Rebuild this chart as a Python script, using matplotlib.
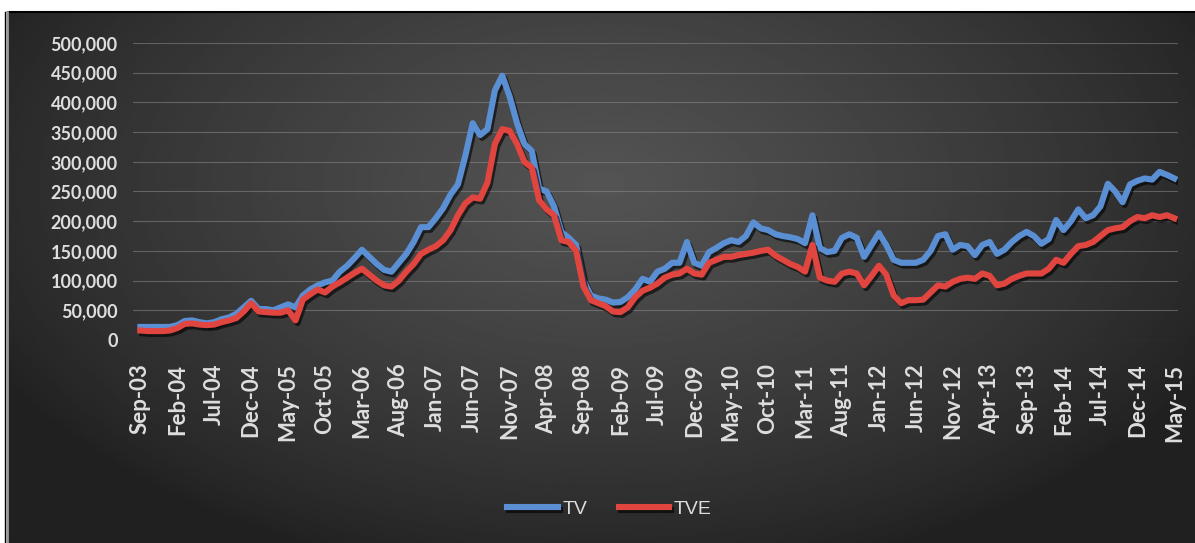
import numpy as np
import pandas as pd
import matplotlib
matplotlib.use('Agg')
import matplotlib.pyplot as plt
import matplotlib.patheffects as pe
from matplotlib.ticker import FuncFormatter

# Mois de Sep-03 a May-15
mois = pd.date_range('2003-09-01', '2015-05-01', freq='MS')
etiquettes = [d.strftime('%b-%y') for d in mois]

# Valeurs (milliers)
tv = [22, 22, 22, 22, 22, 25, 32, 33, 30, 28,
      30, 35, 38, 44, 55, 66, 52, 52, 50, 55,
      60, 55, 75, 85, 92, 97, 100, 115, 125, 138,
      152, 140, 128, 118, 115, 130, 145, 165, 190, 190,
      205, 222, 245, 262, 310, 365, 345, 355, 420, 445,
      410, 365, 330, 318, 255, 250, 225, 182, 172, 160,
      100, 75, 70, 68, 63, 64, 72, 85, 103, 98,
      115, 120, 130, 130, 165, 130, 125, 148, 155, 163,
      168, 165, 175, 198, 188, 185, 178, 175, 173, 170,
      163, 210, 155, 148, 150, 172, 178, 172, 140, 160,
      180, 160, 135, 130, 130, 130, 135, 150, 175, 178,
      152, 160, 158, 143, 160, 165, 145, 152, 165, 175,
      182, 175, 162, 170, 202, 185, 200, 220, 205, 210,
      225, 263, 250, 232, 262, 268, 272, 270, 283, 278,
      272]
tve = [16, 15, 15, 15, 16, 20, 27, 28, 26, 25,
       26, 30, 33, 37, 48, 62, 48, 47, 46, 46,
       50, 33, 68, 77, 85, 80, 90, 97, 105, 113,
       120, 110, 100, 92, 90, 100, 115, 128, 145, 152,
       158, 168, 185, 210, 230, 240, 238, 265, 330, 355,
       352, 330, 300, 290, 235, 220, 210, 168, 165, 150,
       90, 67, 62, 57, 48, 47, 55, 72, 83, 88,
       95, 105, 110, 112, 120, 112, 110, 130, 135, 140,
       140, 143, 145, 147, 150, 152, 142, 135, 128, 123,
       115, 160, 105, 100, 98, 112, 115, 112, 92, 108,
       125, 110, 75, 62, 67, 67, 68, 80, 92, 90,
       98, 103, 105, 103, 112, 108, 92, 95, 103, 108,
       112, 112, 112, 120, 135, 130, 145, 158, 160, 165,
       175, 185, 188, 190, 200, 207, 205, 210, 207, 210,
       205]

tv = np.array(tv) * 1000
tve = np.array(tve) * 1000
x = np.arange(len(mois))

W, H = 1195, 543
fig = plt.figure(figsize=(W / 100, H / 100), dpi=100)
fig.patch.set_facecolor('white')

# Fond degrade sombre
bg = fig.add_axes([8 / W, 0, 1 - 8 / W, (H - 12) / H])
gx, gy = np.meshgrid(np.linspace(-1, 1, 400), np.linspace(-1, 1, 200))
r = np.sqrt((gx / 1.15) ** 2 + ((gy - 0.35) / 1.5) ** 2)
grad = np.clip(1 - r, 0, 1) ** 0.8
gris = 0.13 + (0.33 - 0.13) * grad
bg.imshow(gris, cmap='gray', vmin=0, vmax=1, aspect='auto',
          extent=[0, 1, 0, 1], origin='lower')
bg.axis('off')

# Bordures
fig.add_artist(plt.Line2D([8 / W, 1], [(H - 12) / H] * 2, color='black', lw=1.5))
fig.add_artist(plt.Line2D([5 / W] * 2, [0, (H - 12) / H], color='black', lw=1))
fig.add_artist(plt.Line2D([7 / W] * 2, [0, (H - 12) / H], color='#9a9a9a', lw=2))

ax = fig.add_axes([133 / W, (H - 340) / H, (1178 - 133) / W, (340 - 43) / H])
ax.set_facecolor('none')

ombre = [pe.SimpleLineShadow(offset=(1.5, -2), shadow_color='black', alpha=0.6),
         pe.Normal()]
ax.plot(x, tv, color='#5b8fd4', lw=4.4, label='TV', path_effects=ombre,
        solid_joinstyle='round')
ax.plot(x, tve, color='#e0453f', lw=4.4, label='TVE', path_effects=ombre,
        solid_joinstyle='round')

ax.set_ylim(0, 500000)
ax.set_yticks(np.arange(0, 500001, 50000))
ax.yaxis.set_major_formatter(FuncFormatter(lambda v, p: f'{int(v):,}'))
ax.set_xlim(-1, 140.5)
ax.set_xticks(x[::5])
ax.set_xticklabels(etiquettes[::5], rotation=90)
ax.grid(axis='y', color='#8a8a8a', lw=0.8, alpha=0.55)
ax.set_axisbelow(True)
for s in ax.spines.values():
    s.set_visible(False)
ax.tick_params(length=0, colors='#dedede')
ax.tick_params(axis='y', labelsize=13, pad=11)
ax.tick_params(axis='x', labelsize=16, pad=17)
for lab in ax.get_xticklabels() + ax.get_yticklabels():
    lab.set_fontfamily('Lato')
    lab.set_fontweight('bold')

leg = fig.legend(loc='center', bbox_to_anchor=(0.51, 0.062), ncol=2,
                 frameon=False, handlelength=2.6, columnspacing=1.6,
                 handletextpad=0.25,
                 prop={'family': ['Liberation Sans Narrow', 'Liberation Sans'], 'size': 14})
for t in leg.get_texts():
    t.set_color('#dedede')

plt.savefig('out.png', dpi=100, facecolor=fig.get_facecolor())
